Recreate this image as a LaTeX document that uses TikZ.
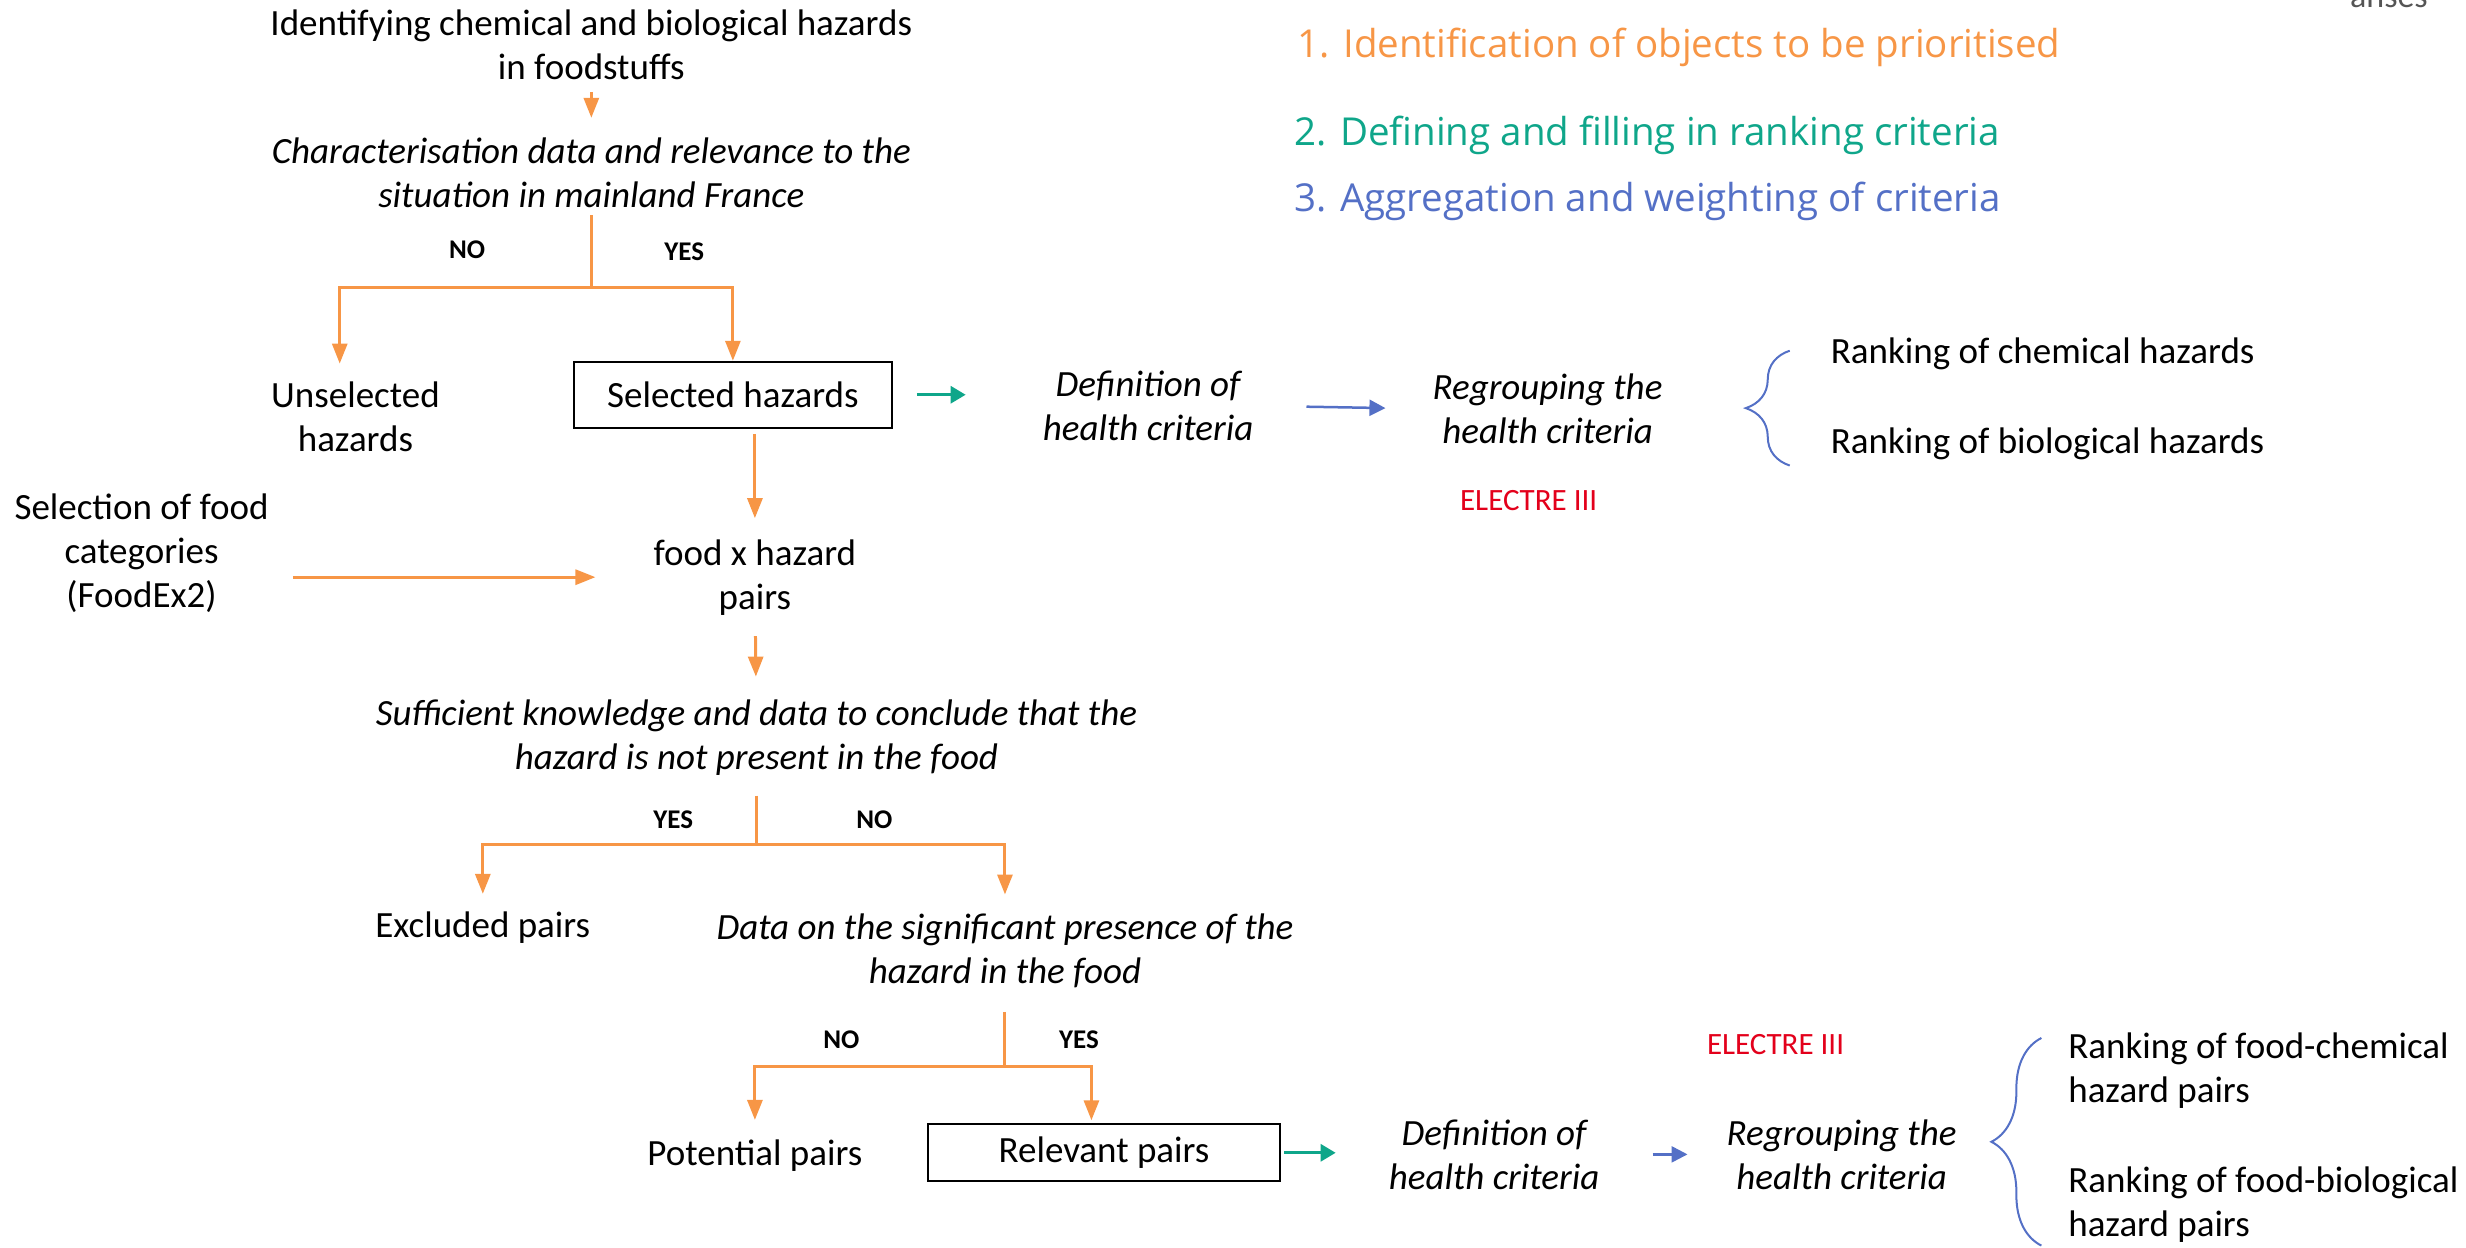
\documentclass[tikz,border=0pt]{standalone}
\usepackage{fontspec}
\setmainfont{Carlito}
\newfontfamily\headfont{Open Sans}
\usetikzlibrary{arrows.meta,decorations.pathreplacing,calc}
\definecolor{fsorange}{HTML}{F79646}
\definecolor{fsgreen}{HTML}{0FA68A}
\definecolor{fsblue}{HTML}{5470C6}
\definecolor{fsred}{HTML}{E3001B}
\definecolor{fsgray}{HTML}{555555}

\begin{document}
\begin{tikzpicture}[x=1.5727pt,y=-1.5727pt,
  txt/.style={font=\fontsize{37}{44}\selectfont, align=center, inner sep=0pt},
  itxt/.style={font=\fontsize{37}{44}\selectfont\itshape, align=center, inner sep=0pt},
  lbl/.style={font=\fontsize{27}{30}\selectfont\bfseries, inner sep=0pt},
  rtxt/.style={font=\fontsize{37}{44}\selectfont, align=left, inner sep=0pt, anchor=west},
  head/.style={font=\headfont\fontsize{38.5}{44}\selectfont, inner sep=0pt, anchor=west},
  electre/.style={font=\fontsize{31}{36}\selectfont, text=fsred, inner sep=0pt},
  hbox/.style={draw=black, line width=2pt, inner sep=0pt, font=\fontsize{37}{44}\selectfont},
  oline/.style={draw=fsorange, line width=3pt},
  oarr/.style={oline, -{Triangle[length=20pt,width=15pt]}},
  garr/.style={draw=fsgreen, line width=3pt, -{Triangle[length=15pt,width=17pt]}},
  barr/.style={draw=fsblue, line width=2.5pt, -{Triangle[length=16pt,width=16pt]}},
  bracestyle/.style={draw=fsblue, line width=2pt, decorate},
]
% page frame
\useasboundingbox (0,0) rectangle (1568,793);

% logo, partly above the page edge
\node[font=\fontsize{34}{40}\selectfont, text=fsgray, anchor=base, inner sep=0pt] (logo) at (1519,4.5) {anses};

% step headings
\node[head, text=fsorange] (h1) at (825,30) {1. Identification of objects to be prioritised};
\node[head, text=fsgreen] (h2) at (823,86) {2. Defining and filling in ranking criteria};
\node[head, text=fsblue] (h3) at (823,128) {3. Aggregation and weighting of criteria};

% hazard selection
\node[txt] (ident) at (376,28.5) {Identifying chemical and biological hazards\\in foodstuffs};
\node[itxt] (char) at (376,110) {Characterisation data and relevance to the\\situation in mainland France};
\node[lbl] (no1) at (297,159) {NO};
\node[lbl] (yes1) at (435,160) {YES};
\node[txt] (unsel) at (226,265) {Unselected\\hazards};
\node[hbox, minimum width=318pt, minimum height=66pt] (sel) at (466,251) {Selected hazards};
\node[itxt] (def1) at (730,258) {Definition of\\health criteria};
\node[itxt] (reg1) at (984,260) {Regrouping the\\health criteria};
\node[electre] (el1) at (972,318) {ELECTRE III};
\node[rtxt] (rk1) at (1164,225) {Ranking of chemical hazards};
\node[rtxt] (rk2) at (1164,282) {Ranking of biological hazards};

% food x hazard pairs
\node[txt] (selfood) at (90,351.5) {Selection of food\\categories\\(FoodEx2)};
\node[txt] (food) at (480,367) {food x hazard\\pairs};
\node[itxt] (suff) at (481,469) {Sufficient knowledge and data to conclude that the\\hazard is not present in the food};
\node[lbl] (yes2) at (428,521) {YES};
\node[lbl] (no2) at (556,521) {NO};
\node[txt] (excl) at (307,590) {Excluded pairs};
\node[itxt] (data) at (639,604.5) {Data on the significant presence of the\\hazard in the food};
\node[lbl] (no3) at (535,661) {NO};
\node[lbl] (yes3) at (686,661) {YES};
\node[txt] (pot) at (480,735) {Potential pairs};
\node[hbox, minimum width=352pt, minimum height=57pt] (rel) at (702,733) {Relevant pairs};
\node[itxt] (def2) at (950,734) {Definition of\\health criteria};
\node[itxt] (reg2) at (1171,734) {Regrouping the\\health criteria};
\node[electre] (el2) at (1129,664) {ELECTRE III};
\node[rtxt] (rk3) at (1315,681) {Ranking of food-chemical\\hazard pairs};
\node[rtxt] (rk4) at (1315,766) {Ranking of food-biological\\hazard pairs};

% branch points
\coordinate (j1) at (376,183);
\coordinate (j2) at (481,537);
\coordinate (j3) at (639,678);

% connectors: first stage
\draw[oarr, shorten <=12pt, shorten >=20pt] (ident) -- (char);
\draw[oline, shorten <=7pt] (char) -- (j1);
\draw[oarr, shorten >=18pt] (j1) -| ([xshift=-15.7pt]unsel.north);
\draw[oarr] (j1) -| (sel.north);
\draw[garr, shorten <=24pt, shorten >=77pt] (sel.east) -- (sel.east -| def1.west);
\draw[barr, shorten <=53pt, shorten >=47pt] (def1.east) -- (reg1.west);

% connectors: food x hazard pairs
\draw[oarr, shorten <=5pt, shorten >=21pt] (sel.south -| food.north) -- (food.north);
\draw[oarr, shorten <=24pt, shorten >=58pt] (selfood.east |- food.west) -- (food.west);
\draw[oarr, shorten <=21pt, shorten >=23pt] (food) -- (suff);
\draw[oline, shorten <=20pt] (suff) -- (j2);
\draw[oarr, shorten >=18pt] (j2) -| (excl.north);
\draw[oarr, shorten >=19pt] (j2) -| (data.north);
\draw[oline, shorten <=24pt] (data) -- (j3);
\draw[oarr, shorten >=20pt] (j3) -| (pot.north);
\draw[oarr, shorten >=3pt] (j3) -| ([xshift=-12.6pt]rel.north);
\draw[garr, shorten <=3pt, shorten >=53pt] (rel.east) -- (rel.east -| def2.west);
\draw[barr, shorten <=53pt, shorten >=39pt] (def2.east) -- (reg2.west);

% braces grouping the rankings
\draw[bracestyle, decoration={brace, amplitude=44pt}] (1138,296) -- (1138,223);
\draw[bracestyle, decoration={brace, amplitude=50pt}] (1298,792) -- (1298,660);
\end{tikzpicture}
\end{document}
